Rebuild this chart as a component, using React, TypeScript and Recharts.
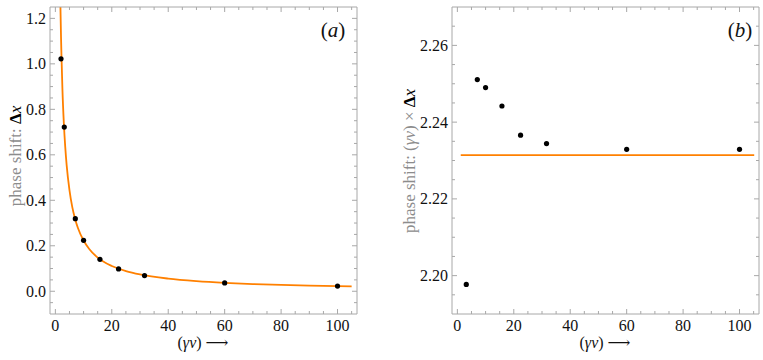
import React from 'react';
import { ComposedChart, Line, Scatter, XAxis, YAxis } from 'recharts';

/* ─────── data ─────── */
// (a) fitted curve
const fitCurveX = [1.8, 2.0, 2.2, 2.5, 3, 3.5, 4, 5, 6, 7, 8, 10, 12, 15, 20, 25, 30, 40, 50, 60, 70, 80, 90, 100, 105];
const fitCurveY = [1.25, 1.12, 1.02, 0.89, 0.74, 0.635, 0.555, 0.445, 0.37, 0.318, 0.278, 0.223, 0.186, 0.148, 0.111, 0.089, 0.074, 0.0556, 0.0445, 0.037, 0.0318, 0.0278, 0.0247, 0.0222, 0.0212];
// (a) measured phase shift
const shiftX = [2.0, 3.16, 7.07, 10, 15.8, 22.4, 31.6, 60, 100];
const shiftY = [1.022, 0.722, 0.319, 0.224, 0.1405, 0.098, 0.069, 0.0365, 0.023];
// (b) product (γv)·Δx
const productX = [3.16, 7.07, 10, 15.8, 22.4, 31.6, 60, 100];
const productY = [2.1977, 2.2511, 2.249, 2.2442, 2.2366, 2.2344, 2.2329, 2.2329];
// (b) asymptotic value
const limitX = [1.2, 105.2];
const limitY = [2.2314, 2.2314];

const xTicks = [0, 5, 10, 15, 20, 25, 30, 35, 40, 45, 50, 55, 60, 65, 70, 75, 80, 85, 90, 95, 100, 105];
const xMajor = [0, 20, 40, 60, 80, 100];
const yTicksA = [-0.05, 0, 0.05, 0.1, 0.15, 0.2, 0.25, 0.3, 0.35, 0.4, 0.45, 0.5, 0.55, 0.6, 0.65, 0.7, 0.75, 0.8, 0.85, 0.9, 0.95, 1.0, 1.05, 1.1, 1.15, 1.2];
const yMajorA = [0, 0.2, 0.4, 0.6, 0.8, 1.0, 1.2];
const yTicksB = [2.195, 2.2, 2.205, 2.21, 2.215, 2.22, 2.225, 2.23, 2.235, 2.24, 2.245, 2.25, 2.255, 2.26, 2.265];
const yMajorB = [2.2, 2.22, 2.24, 2.26];

const zip = (xs: number[], ys: number[]) => xs.map((x, i) => ({ x, y: ys[i] }));

/* ─────── styles ─────── */
const FONT = '"Liberation Serif", "DejaVu Serif", serif';
const FRAME = '#a8a8a8';
const ORANGE = '#ff8000';
const X_DOMAIN: [number, number] = [-1.9, 106.9];
const CHART_W = 380;
const CHART_H = 360;
// axes are 1px thick, so plot area = 50..357 x 7..314
const MARGIN = { top: 6, right: 22, bottom: 45, left: 49 };

const isMajor = (list: number[], v: number) => list.some((m) => Math.abs(m - v) < 1e-9);

const makeTick = (side: 'bottom' | 'top' | 'left' | 'right', major: number[], digits: number) =>
  (props: any) => {
    const { x, y, payload } = props;
    const v = payload.value as number;
    const big = isMajor(major, v);
    const len = big ? 5 : 3;
    let line;
    let label = null;
    if (side === 'bottom') {
      line = <line x1={x} x2={x} y1={y} y2={y - len} stroke={FRAME} />;
      if (big) label = <text x={x} y={y + 17} textAnchor="middle" fontFamily={FONT} fontSize={16} fill="#111">{v.toFixed(digits)}</text>;
    } else if (side === 'top') {
      line = <line x1={x} x2={x} y1={y} y2={y + len} stroke={FRAME} />;
    } else if (side === 'left') {
      line = <line x1={x} x2={x + len} y1={y} y2={y} stroke={FRAME} />;
      if (big) label = <text x={x - 4} y={y + 5.5} textAnchor="end" fontFamily={FONT} fontSize={16} fill="#111">{v.toFixed(digits)}</text>;
    } else {
      line = <line x1={x} x2={x - len} y1={y} y2={y} stroke={FRAME} />;
    }
    return <g>{line}{label}</g>;
  };

const dot = (p: any) => <circle cx={p.cx} cy={p.cy} r={2.6} fill="#000" />;

function Frame({ yDomain, yTicks, yMajor, digits }: { yDomain: [number, number]; yTicks: number[]; yMajor: number[]; digits: number }) {
  const common = { type: 'number' as const, allowDataOverflow: true, tickSize: 0, tickMargin: 0, tickLine: false, interval: 0 as const, axisLine: { stroke: FRAME } };
  return (
    <>
      <XAxis xAxisId="b" dataKey="x" orientation="bottom" height={1} domain={X_DOMAIN} ticks={xTicks} tick={makeTick('bottom', xMajor, 0)} {...common} />
      <XAxis xAxisId="t" dataKey="x" orientation="top" height={1} domain={X_DOMAIN} ticks={xTicks} tick={makeTick('top', xMajor, 0)} {...common} />
      <YAxis yAxisId="l" dataKey="y" orientation="left" width={1} domain={yDomain} ticks={yTicks} tick={makeTick('left', yMajor, digits)} {...common} />
      <YAxis yAxisId="r" dataKey="y" orientation="right" width={1} domain={yDomain} ticks={yTicks} tick={makeTick('right', yMajor, digits)} {...common} />
    </>
  );
}

export default function App() {
  return (
    <div style={{ position: 'absolute', left: 0, top: 0, width: 763, height: 360, background: '#fff' }}>
      {/* (a) phase shift vs γv */}
      <div style={{ position: 'absolute', left: 0, top: 0 }}>
        <ComposedChart width={CHART_W} height={CHART_H} margin={MARGIN}>
          {Frame({ yDomain: [-0.1, 1.25], yTicks: yTicksA, yMajor: yMajorA, digits: 1 })}
          <Line xAxisId="b" yAxisId="l" data={zip(fitCurveX, fitCurveY)} dataKey="y" type="monotone"
            stroke={ORANGE} strokeWidth={1.8} dot={false} isAnimationActive={false} />
          <Scatter xAxisId="b" yAxisId="l" data={zip(shiftX, shiftY)} dataKey="y" shape={dot} isAnimationActive={false} />
        </ComposedChart>
      </div>

      {/* (b) product γv·Δx */}
      <div style={{ position: 'absolute', left: 402, top: 0 }}>
        <ComposedChart width={CHART_W} height={CHART_H} margin={MARGIN}>
          {Frame({ yDomain: [2.19, 2.27], yTicks: yTicksB, yMajor: yMajorB, digits: 2 })}
          <Line xAxisId="b" yAxisId="l" data={zip(limitX, limitY)} dataKey="y" type="linear"
            stroke={ORANGE} strokeWidth={1.8} dot={false} isAnimationActive={false} />
          <Scatter xAxisId="b" yAxisId="l" data={zip(productX, productY)} dataKey="y" shape={dot} isAnimationActive={false} />
        </ComposedChart>
      </div>

      {/* titles */}
      <svg width={763} height={360} style={{ position: 'absolute', left: 0, top: 0, pointerEvents: 'none' }}>
        <g fontFamily={FONT} fontSize={17}>
          <text x={21} y={156} textAnchor="middle" transform="rotate(-90 21 156)">
            <tspan fill="#8c8c8c">phase shift: </tspan>
            <tspan fill="#000" fontWeight="bold">Δ</tspan>
            <tspan fill="#000" fontStyle="italic">x</tspan>
          </text>
          <text x={415} y={161} textAnchor="middle" transform="rotate(-90 415 161)">
            <tspan fill="#8c8c8c">phase shift: (</tspan>
            <tspan fill="#8c8c8c" fontStyle="italic">γv</tspan>
            <tspan fill="#8c8c8c">) × </tspan>
            <tspan fill="#000" fontWeight="bold">Δ</tspan>
            <tspan fill="#000" fontStyle="italic">x</tspan>
          </text>
        </g>
        <g fontFamily={FONT} fontSize={16} fill="#111">
          <text x={203} y={348} textAnchor="middle">
            (<tspan fontStyle="italic">γv</tspan>) ⟶
          </text>
          <text x={605} y={348} textAnchor="middle">
            (<tspan fontStyle="italic">γv</tspan>) ⟶
          </text>
        </g>
        <g fontFamily={FONT} fontSize={21} fill="#111">
          <text x={333} y={37} textAnchor="middle">(<tspan fontStyle="italic">a</tspan>)</text>
          <text x={740} y={37} textAnchor="middle">(<tspan fontStyle="italic">b</tspan>)</text>
        </g>
      </svg>
    </div>
  );
}
